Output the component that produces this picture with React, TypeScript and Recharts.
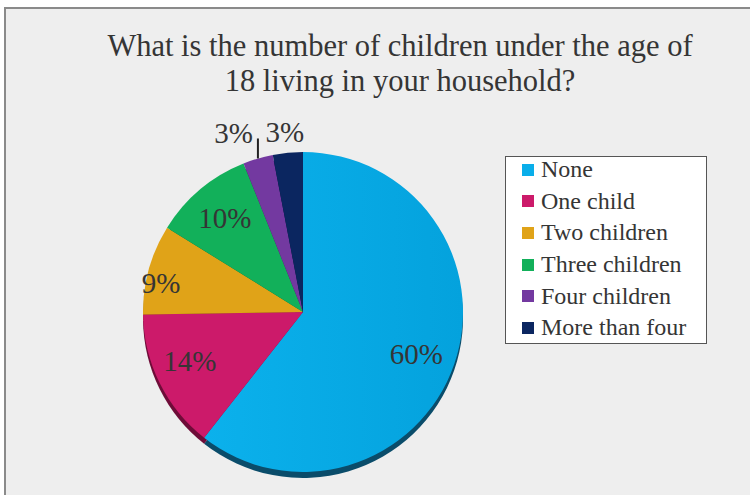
import React from "react";
import { PieChart, Pie, Cell, Legend } from "recharts";

const categories = ["None", "One child", "Two children", "Three children", "Four children", "More than four"];
const shares = [60, 14, 9, 10, 3, 3];
const colors = ["url(#noneFill)", "#cc1a6a", "#e0a318", "#12b05a", "#7339a0", "#0b2660"];
const swatches = ["#09aeea", "#cc1a6a", "#e0a318", "#12b05a", "#7339a0", "#0b2660"];
const shadowColors = ["#0a4c6a", "#6e0c38", "#7a5508", "#0a5e30", "#3a1d55", "#061433"];
// label placement: share of radius, then a small pixel nudge
const labelDepth = [0.75, 0.79, 0.92, 0.76, 1, 1];
const labelNudgeY = [3, -7, 10, -1, 0, 0];

const FONT = "'Liberation Serif', 'DejaVu Serif', serif";
const TEXT = "#353535";
const RADIAN = Math.PI / 180;

const data = categories.map((name, i) => ({ name, value: shares[i] }));

function renderLabel(props: any) {
  const { cx, cy, midAngle, outerRadius, index, value } = props;
  const cos = Math.cos(-midAngle * RADIAN);
  const sin = Math.sin(-midAngle * RADIAN);
  const common = { fill: TEXT, fontFamily: FONT, fontSize: 29 };

  if (index === 4) {
    const ex = cx + outerRadius * cos;
    const ey = cy + outerRadius * sin;
    return (
      <g key={`l${index}`}>
        <line x1={ex} y1={ey} x2={ex} y2={ey - 20} stroke="#222" strokeWidth={2} />
        <text x={ex - 5} y={ey - 25} textAnchor="end" dominantBaseline="central" {...common}>
          {value}%
        </text>
      </g>
    );
  }
  if (index === 5) {
    const ex = cx + outerRadius * cos;
    const ey = cy + outerRadius * sin;
    return (
      <text key={`l${index}`} x={ex - 3} y={ey - 21} textAnchor="middle" dominantBaseline="central" {...common}>
        {value}%
      </text>
    );
  }
  const r = outerRadius * labelDepth[index];
  return (
    <text
      key={`l${index}`}
      x={cx + r * cos}
      y={cy + r * sin + labelNudgeY[index]}
      textAnchor="middle"
      dominantBaseline="central"
      {...common}
    >
      {value}%
    </text>
  );
}

function LegendBox() {
  return (
    <div
      style={{
        width: 202,
        height: 188,
        background: "#fff",
        border: "1.5px solid #555",
        boxSizing: "border-box",
        padding: "0 0 0 16px",
      }}
    >
      <div style={{ position: "relative", top: -3 }}>
        {categories.map((name, i) => (
          <div
            key={name}
            style={{ display: "flex", alignItems: "center", height: 31.6, fontFamily: FONT, fontSize: 24, color: TEXT }}
          >
            <span style={{ width: 12, height: 12, background: swatches[i], marginRight: 7, flex: "none" }} />
            {name}
          </div>
        ))}
      </div>
    </div>
  );
}

export default function App() {
  return (
    <div style={{ position: "absolute", left: 0, top: 0, width: 750, height: 495, background: "#fff", overflow: "hidden" }}>
      <div
        style={{
          position: "absolute",
          left: 4,
          top: 7,
          width: 800,
          height: 520,
          background: "#eeeeee",
          borderLeft: "2px solid #8a8a8a",
          borderTop: "2px solid #8a8a8a",
        }}
      />
      <div
        style={{
          position: "absolute",
          left: 0,
          top: 29,
          width: 800,
          textAlign: "center",
          fontFamily: FONT,
          fontSize: 30.5,
          lineHeight: "35px",
          color: TEXT,
        }}
      >
        What is the number of children under the age of
        <br />
        18 living in your household?
      </div>
      <div style={{ position: "absolute", left: 0, top: 0 }}>
        <PieChart width={750} height={495} margin={{ top: 0, right: 0, bottom: 0, left: 0 }}>
          <defs>
            <linearGradient id="noneFill" x1="0" y1="0" x2="1" y2="0">
              <stop offset="0%" stopColor="#0bb1ec" />
              <stop offset="100%" stopColor="#04a2dd" />
            </linearGradient>
          </defs>
          <Pie
            data={data}
            dataKey="value"
            nameKey="name"
            cx={303}
            cy={318}
            outerRadius={160}
            startAngle={90}
            endAngle={-270}
            stroke="none"
            isAnimationActive={false}
            legendType="none"
          >
            {data.map((d, i) => (
              <Cell key={d.name} fill={shadowColors[i]} />
            ))}
          </Pie>
          <Pie
            data={data}
            dataKey="value"
            nameKey="name"
            cx={303}
            cy={312}
            outerRadius={160}
            startAngle={90}
            endAngle={-270}
            stroke="none"
            isAnimationActive={false}
            label={renderLabel}
            labelLine={false}
          >
            {data.map((d, i) => (
              <Cell key={d.name} fill={colors[i]} />
            ))}
          </Pie>
          <Legend
            layout="vertical"
            content={() => <LegendBox />}
            wrapperStyle={{ position: "absolute", left: 505, top: 156, width: 202 }}
          />
        </PieChart>
      </div>
    </div>
  );
}
